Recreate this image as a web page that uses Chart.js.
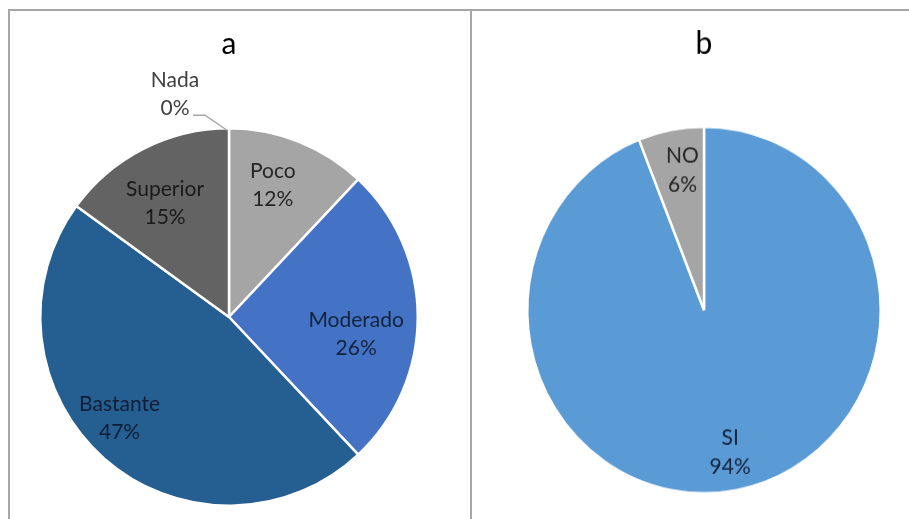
<!DOCTYPE html>
<html>
<head>
<meta charset="utf-8">
<script src="https://cdn.jsdelivr.net/npm/chart.js@4/dist/chart.umd.min.js"></script>
<style>
  html, body { margin: 0; padding: 0; background: #ffffff; }
  body { width: 909px; height: 519px; position: relative; overflow: hidden; }
  .frame { position: absolute; background: #a6a6a6; }
  .box { position: absolute; top: 0; }
  #boxB { transform: scaleY(1.037); transform-origin: 50% 310px; }
</style>
</head>
<body>
<div class="frame" style="left:8px; top:9px; width:901px; height:2px;"></div>
<div class="frame" style="left:8px; top:9px; width:2px; height:510px;"></div>
<div class="frame" style="left:470px; top:9px; width:2px; height:510px;"></div>

<div class="box" id="boxA" style="left:0px; width:458px; height:519px;"><canvas id="chartA" width="458" height="519"></canvas></div>
<div class="box" id="boxB" style="left:504px; width:400px; height:519px;"><canvas id="chartB" width="400" height="519"></canvas></div>

<script>
// Panel a: level of agreement
const nivelCategorias = ['Nada', 'Poco', 'Moderado', 'Bastante', 'Superior'];
const nivelPorcentajes = [0, 12, 26, 47, 15];

// Panel b: yes / no
const respuestaCategorias = ['SI', 'NO'];
const respuestaPorcentajes = [94, 6];

const LABEL_FONT = '21px Lato, "Liberation Sans", sans-serif';
const TITLE_FONT = { family: 'Lato, "Liberation Sans", sans-serif', size: 30, weight: 'normal', lineHeight: 1.2 };

// Writes "name / value%" on each slice, placed along the slice's mid angle.
// A slice with a leader entry gets its text outside, joined by a short line.
const sliceLabels = {
  id: 'sliceLabels',
  afterDatasetsDraw(chart, args, opts) {
    const ctx = chart.ctx;
    const meta = chart.getDatasetMeta(0);
    const names = chart.data.labels;
    const values = chart.data.datasets[0].data;
    ctx.save();
    ctx.font = LABEL_FONT;
    ctx.textAlign = 'center';
    ctx.textBaseline = 'middle';
    meta.data.forEach((arc, i) => {
      const p = arc.getProps(['x', 'y', 'startAngle', 'endAngle', 'outerRadius'], true);
      const place = opts.place[i];
      let cx, cy;
      if (place.leader) {
        const ax = p.x + Math.cos(p.startAngle) * p.outerRadius;
        const ay = p.y + Math.sin(p.startAngle) * p.outerRadius;
        const pts = place.leader.map(([dx, dy]) => [ax + dx, ay + dy]);
        ctx.strokeStyle = '#a6a6a6';
        ctx.lineWidth = 1.5;
        ctx.beginPath();
        ctx.moveTo(pts[0][0], pts[0][1]);
        for (let k = 1; k < pts.length; k++) ctx.lineTo(pts[k][0], pts[k][1]);
        ctx.stroke();
        cx = ax + place.text[0];
        cy = ay + place.text[1];
      } else {
        const mid = (p.startAngle + p.endAngle) / 2 + place.turn * Math.PI / 180;
        cx = p.x + Math.cos(mid) * p.outerRadius * place.radius;
        cy = p.y + Math.sin(mid) * p.outerRadius * place.radius;
      }
      ctx.fillStyle = opts.colors[i];
      ctx.fillText(names[i], cx, cy - opts.lineGap / 2);
      ctx.fillText(values[i] + '%', cx, cy + opts.lineGap / 2);
    });
    ctx.restore();
  }
};

new Chart(document.getElementById('chartA'), {
  type: 'pie',
  data: {
    labels: nivelCategorias,
    datasets: [{
      data: nivelPorcentajes,
      backgroundColor: ['#5b9bd5', '#a5a5a5', '#4472c4', '#255e91', '#636363'],
      borderColor: '#ffffff',
      borderWidth: 2.5
    }]
  },
  options: {
    responsive: false,
    animation: false,
    layout: { padding: { top: 0, bottom: 12, left: 0, right: 0 } },
    plugins: {
      legend: { display: false },
      tooltip: { enabled: false },
      title: {
        display: true,
        text: 'a',
        color: '#000000',
        font: TITLE_FONT,
        padding: { top: 26, bottom: 65 }
      },
      sliceLabels: {
        lineGap: 28,
        colors: ['#404040', '#262626', '#13233d', '#0f1e36', '#1a1a1a'],
        place: [
          { leader: [[-2, 2], [-24, -13], [-36, -13]], text: [-54, -34] },
          { turn: -3.2, radius: 0.735 },
          { turn: 7.8, radius: 0.68 },
          { turn: 5.8, radius: 0.79 },
          { turn: -2.4, radius: 0.69 }
        ]
      }
    }
  },
  plugins: [sliceLabels]
});

new Chart(document.getElementById('chartB'), {
  type: 'pie',
  data: {
    labels: respuestaCategorias,
    datasets: [{
      data: respuestaPorcentajes,
      backgroundColor: ['#5b9bd5', '#a5a5a5'],
      borderColor: '#ffffff',
      borderWidth: 2.5
    }]
  },
  options: {
    responsive: false,
    animation: false,
    layout: { padding: { top: 0, bottom: 31, left: 0, right: 0 } },
    plugins: {
      legend: { display: false },
      tooltip: { enabled: false },
      title: {
        display: true,
        text: 'b',
        color: '#000000',
        font: TITLE_FONT,
        padding: { top: 35, bottom: 61 }
      },
      sliceLabels: {
        lineGap: 28,
        colors: ['#13233d', '#262626'],
        place: [
          { turn: 0, radius: 0.79 },
          { turn: 1.7, radius: 0.77 }
        ]
      }
    }
  },
  plugins: [sliceLabels]
});
</script>
</body>
</html>
